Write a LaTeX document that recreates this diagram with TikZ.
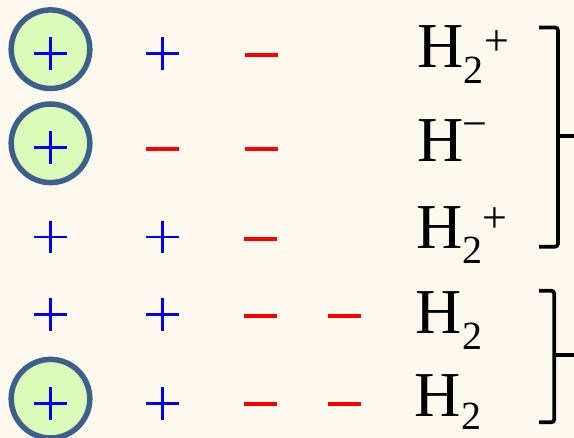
\documentclass[tikz,border=0pt]{standalone}
\usepackage{fontspec}
\setmainfont{Liberation Serif}
\definecolor{bg}{RGB}{254,249,239}
\definecolor{ringfill}{RGB}{219,252,185}
\definecolor{ringedge}{RGB}{60,95,140}
\definecolor{plusblue}{RGB}{0,0,255}
\definecolor{minusred}{RGB}{255,0,0}
\tikzset{
  ring/.style={circle, draw=ringedge, fill=ringfill, line width=5.5pt, minimum size=78.6pt, inner sep=0pt},
  plusmark/.pic={\draw[plusblue, line width=2.7pt] (-16.35,0) -- (16.35,0) (0,-16.35) -- (0,16.35);},
  minusmark/.pic={\draw[minusred, line width=3.7pt] (-16.35,0) -- (16.35,0);},
  bigtxt/.style={font=\fontsize{64}{64}\selectfont, inner sep=0pt, anchor=base},
  subtxt/.style={font=\fontsize{40}{40}\selectfont, inner sep=0pt, anchor=base},
  suptxt/.style={font=\fontsize{44}{44}\selectfont, inner sep=0pt, anchor=center},
  bracket/.style={line width=3.7pt, rounded corners=3pt},
  tick/.style={line width=3.7pt},
}
\begin{document}
\begin{tikzpicture}[x=1pt,y=-1pt]
\useasboundingbox (0,0) rectangle (574,438);
\fill[bg] (0,0) rectangle (574,438);
% rings
\node[ring] (c1) at (50.5,49.2) {};
\node[ring] (c2) at (50.5,143.3) {};
\node[ring] (c5) at (50.5,398.7) {};
% row 1
\pic at (50.3,53.5) {plusmark};
\pic at (162.3,53.5) {plusmark};
\pic at (261.3,54.7) {minusmark};
% row 2
\pic at (50.3,147.8) {plusmark};
\pic at (162.3,148.7) {minusmark};
\pic at (261.3,148.7) {minusmark};
% row 3
\pic at (50.3,237) {plusmark};
\pic at (162.3,237) {plusmark};
\pic at (260.5,239) {minusmark};
% row 4
\pic at (50.3,314.7) {plusmark};
\pic at (162.3,314.7) {plusmark};
\pic at (260.3,315.7) {minusmark};
\pic at (344.3,315.7) {minusmark};
% row 5
\pic at (50.3,403.3) {plusmark};
\pic at (162.3,403.3) {plusmark};
\pic at (260.3,403.7) {minusmark};
\pic at (344.3,403.7) {minusmark};
% formulas
\node[bigtxt] (h1) at (440.4,68) {H};
\node[subtxt] (s1) at (473.5,84) {2};
\node[suptxt] (p1) at (496.5,43.3) {+};
\node[bigtxt] (h2) at (440.8,161.5) {H};
\node[suptxt] (p2) at (475.2,130.7) {−};
\node[bigtxt] (h3) at (439.2,248.3) {H};
\node[subtxt] (s3) at (472.5,263.3) {2};
\node[suptxt] (p3) at (495,220) {+};
\node[bigtxt] (h4) at (439,334) {H};
\node[subtxt] (s4) at (472.2,350) {2};
\node[bigtxt] (h5) at (437.2,416.7) {H};
\node[subtxt] (s5) at (471,430) {2};
% brackets
\draw[bracket] (539,27.5) -- (558,27.5) -- (558,246.7) -- (539,246.7);
\draw[tick] (558,136) -- (574,136);
\draw[bracket] (539,290.7) -- (554.3,290.7) -- (554.3,422.3) -- (539,422.3);
\draw[tick] (554.3,355) -- (574,355);
\end{tikzpicture}
\end{document}
